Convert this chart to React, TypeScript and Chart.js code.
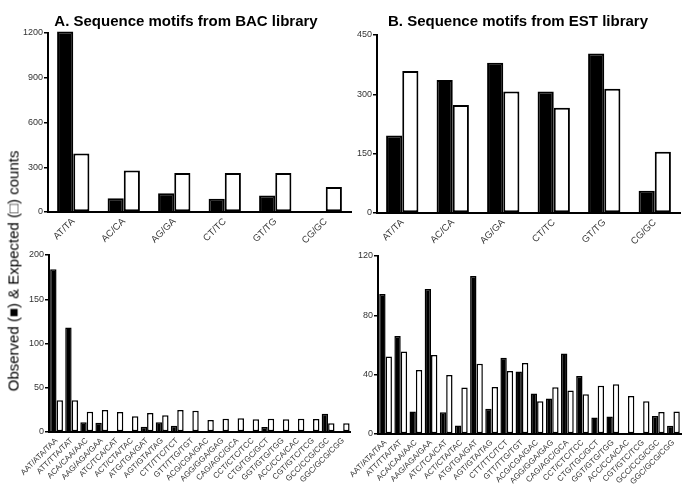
import React, { useEffect, useRef } from "react";
import { Chart, registerables } from "chart.js";
Chart.register(...registerables);

const diCategories = ["AT/TA", "AC/CA", "AG/GA", "CT/TC", "GT/TG", "CG/GC"];
const bacDiObserved = [1210, 92, 126, 88, 110, 0];
const bacDiExpected = [392, 279, 261, 261, 261, 167];
const estDiObserved = [196, 336, 380, 307, 403, 56];
const estDiExpected = [359, 273, 307, 266, 314, 155];

const triCategories = [
  "AAT/ATA/TAA", "ATT/TTA/TAT", "ACA/CAA/AAC", "AAG/AGA/GAA", "ATC/TCA/CAT",
  "ACT/CTA/TAC", "ATG/TGA/GAT", "AGT/GTA/TAG", "CTT/TTC/TCT", "GTT/TTG/TGT",
  "ACG/CGA/GAC", "AGG/GGA/GAG", "CAG/AGC/GCA", "CCT/CTC/TCC", "CTG/TGC/GCT",
  "GGT/GTG/TGG", "ACC/CCA/CAC", "CGT/GTC/TCG", "GCC/CCG/CGC", "GGC/GCG/CGG",
];
const bacTriObserved = [184, 118, 11, 10.5, 0, 0, 6, 11, 7, 0, 0, 0, 0, 0, 5.6, 0, 0, 0, 20.7, 0];
const bacTriExpected = [36, 36, 23, 25, 22.5, 17.7, 21.4, 18.8, 24.8, 24, 13.5, 15, 15.4, 14.3, 15, 14.3, 15, 14.7, 10, 9.8];
const estTriObserved = [94.3, 66.1, 15.2, 97.7, 14.7, 5.8, 106.6, 17, 51.4, 42.2, 27.3, 23.9, 54.3, 39.1, 11.2, 11.8, 0, 0, 12.1, 5.6];
const estTriExpected = [52.3, 55.6, 43.1, 53.2, 39.8, 31.3, 47.4, 31.7, 42.5, 47.8, 22.1, 31.5, 29.3, 26.8, 32.6, 33.5, 25.7, 22.1, 14.8, 15.2];

const titleA = "A. Sequence motifs from BAC library";
const titleB = "B. Sequence motifs from EST library";
const yAxisLabel = "Observed (\u25A0) & Expected (\u25A1) counts";

const FONT = "'Liberation Sans', Arial, Helvetica, sans-serif";

type PanelProps = {
  labels: string[];
  observed: number[];
  expected: number[];
  max: number;
  step: number;
  left: number;
  top: number;
  width: number;
  height: number;
  padTop: number;
  padRight: number;
  yWidth: number;
  xHeight: number;
  catPct: number;
  border: number;
  xFont: number;
};

function Panel(p: PanelProps) {
  const ref = useRef<HTMLCanvasElement | null>(null);
  useEffect(() => {
    if (!ref.current) return;
    const chart = new Chart(ref.current, {
      type: "bar",
      data: {
        labels: p.labels,
        datasets: [
          {
            label: "Observed",
            data: p.observed,
            backgroundColor: "#000",
            borderColor: "#000",
            borderWidth: p.border,
            categoryPercentage: p.catPct,
            barPercentage: 1,
            clip: false as any,
          },
          {
            label: "Expected",
            data: p.expected,
            backgroundColor: "#fff",
            borderColor: "#000",
            borderWidth: p.border,
            borderSkipped: false,
            categoryPercentage: p.catPct,
            barPercentage: 1,
          },
        ],
      },
      options: {
        responsive: false,
        animation: false,
        devicePixelRatio: 1,
        layout: { padding: { top: p.padTop, right: p.padRight, left: 0, bottom: 0 } },
        plugins: { legend: { display: false }, title: { display: false }, tooltip: { enabled: false } },
        scales: {
          x: {
            grid: { display: true, drawOnChartArea: false, drawTicks: false, color: "rgba(0,0,0,0)" },
            border: { display: true, color: "#000", width: 2 },
            ticks: {
              minRotation: 45,
              maxRotation: 45,
              autoSkip: false,
              padding: 4,
              color: "#333",
              font: { family: FONT, size: p.xFont },
            },
            afterFit: (s: any) => {
              s.height = p.xHeight;
            },
          },
          y: {
            min: 0,
            max: p.max,
            grid: { display: true, drawOnChartArea: false, drawTicks: true, tickLength: 4, color: "#000", lineWidth: 1.5 },
            border: { display: true, color: "#000", width: 2 },
            ticks: {
              stepSize: p.step,
              padding: 1,
              color: "#333",
              font: { family: FONT, size: 9 },
              callback: (v: any) => String(v),
            },
            afterFit: (s: any) => {
              s.width = p.yWidth;
            },
          },
        },
      },
    });
    return () => chart.destroy();
  }, []);
  return (
    <canvas
      ref={ref}
      width={p.width}
      height={p.height}
      style={{ position: "absolute", left: p.left, top: p.top, width: p.width, height: p.height }}
    />
  );
}

export default function App() {
  const titleStyle: React.CSSProperties = {
    position: "absolute",
    top: 20,
    transform: "translate(-50%, -50%)",
    font: `bold 15px ${FONT}`,
    color: "#000",
    whiteSpace: "nowrap",
  };
  return (
    <div style={{ position: "absolute", left: 0, top: 0, width: 685, height: 494, background: "#fff", overflow: "hidden" }}>
      <Panel labels={diCategories} observed={bacDiObserved} expected={bacDiExpected} max={1200} step={300}
        left={0} top={0} width={352} height={262} padTop={33} padRight={1} yWidth={48} xHeight={50} catPct={0.64} border={2} xFont={9.5} />
      <Panel labels={diCategories} observed={estDiObserved} expected={estDiExpected} max={450} step={150}
        left={340} top={0} width={345} height={262} padTop={35} padRight={5} yWidth={37} xHeight={49} catPct={0.64} border={2} xFont={9.5} />
      <Panel labels={triCategories} observed={bacTriObserved} expected={bacTriExpected} max={200} step={50}
        left={0} top={240} width={354} height={254} padTop={15} padRight={1} yWidth={49} xHeight={62} catPct={0.85} border={1.5} xFont={8} />
      <Panel labels={triCategories} observed={estTriObserved} expected={estTriExpected} max={120} step={40}
        left={340} top={240} width={345} height={254} padTop={16} padRight={4} yWidth={38} xHeight={60} catPct={0.84} border={1.5} xFont={8} />
      <div style={{ ...titleStyle, left: 186 }}>{titleA}</div>
      <div style={{ ...titleStyle, left: 518 }}>{titleB}</div>
      <div
        style={{
          position: "absolute",
          left: 13,
          top: 271,
          transform: "translate(-50%, -50%) rotate(-90deg)",
          font: `15px ${FONT}`,
          color: "#000",
          whiteSpace: "nowrap",
        }}
      >
        {yAxisLabel}
      </div>
    </div>
  );
}
